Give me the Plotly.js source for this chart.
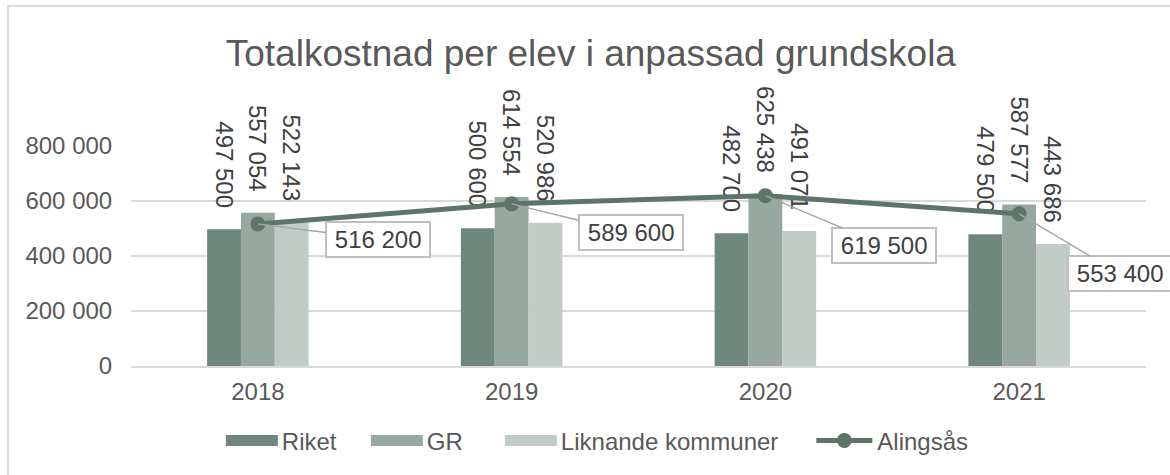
<!DOCTYPE html>
<html>
<head>
<meta charset="utf-8">
<script src="https://cdn.plot.ly/plotly-3.0.1.min.js"></script>
<style>
  html, body { margin: 0; padding: 0; background: #ffffff; overflow: hidden; }
  #chart { width: 1170px; height: 475px; position: absolute; left: 0; top: 0; }
  #frame { position: absolute; left: 7px; top: 5px; width: 1300px; height: 600px;
           border: 2px solid #d9d9d9; pointer-events: none; }
</style>
</head>
<body>
<div id="chart"></div>
<div id="frame"></div>
<script>
const years = [2018, 2019, 2020, 2021];
const riket = [497500, 500600, 482700, 479500];
const gr = [557054, 614554, 625438, 587577];
const liknande = [522143, 520986, 491071, 443686];
const alingsas = [516200, 589600, 619500, 553400];
const seriesNames = ['Riket', 'GR', 'Liknande kommuner', 'Alingsås'];
const yTicks = [0, 200000, 400000, 600000, 800000];

function fmt(v) { return String(v).replace(/\B(?=(\d{3})+(?!\d))/g, ' '); }
const pad = '\u00a0\u00a0\u2009';

const textColor = '#404040';
const axisColor = '#595959';
const fontFam = '"Liberation Sans", Arial, sans-serif';

function barTrace(name, vals, color) {
  return {
    type: 'bar', name: name, x: years, y: vals,
    marker: { color: color, line: { width: 0 } },
    text: vals.map(v => fmt(v) + pad),
    textposition: 'outside', textangle: 90, constraintext: 'none',
    cliponaxis: false,
    textfont: { size: 24, color: textColor, family: fontFam }
  };
}

const traces = [
  barTrace(seriesNames[0], riket, '#6f877c'),
  barTrace(seriesNames[1], gr, '#97a8a0'),
  barTrace(seriesNames[2], liknande, '#c2ccc7'),
  {
    type: 'scatter', mode: 'lines+markers', name: seriesNames[3], x: years, y: alingsas,
    line: { color: '#5d7569', width: 5 },
    marker: { color: '#5d7569', size: 15 },
    cliponaxis: false
  }
];

const offsets = [[120, 15], [119, 29], [119, 50], [101, 60]];
const annotations = years.map((yr, i) => ({
  x: yr, y: alingsas[i], xref: 'x', yref: 'y',
  text: '\u2009' + fmt(alingsas[i]) + '\u2009',
  showarrow: true, arrowhead: 0, arrowwidth: 1.5, arrowcolor: '#a6a6a6',
  ax: offsets[i][0], ay: offsets[i][1], standoff: 0,
  bordercolor: '#bfbfbf', borderwidth: 2, borderpad: 3, bgcolor: '#ffffff',
  font: { size: 24, color: textColor, family: fontFam }
}));

const layout = {
  width: 1170, height: 475,
  margin: { l: 131, r: 24, t: 146, b: 109 },
  paper_bgcolor: 'rgba(0,0,0,0)', plot_bgcolor: 'rgba(0,0,0,0)',
  font: { family: fontFam, size: 24, color: axisColor },
  title: {
    text: 'Totalkostnad per elev i anpassad grundskola',
    font: { size: 37, color: axisColor, family: fontFam },
    x: 0.505, xanchor: 'center', xref: 'container',
    y: 1 - 53 / 475, yanchor: 'middle', yref: 'container'
  },
  barmode: 'group', bargap: 0.6, bargroupgap: 0,
  xaxis: {
    type: 'linear', range: [2017.5, 2021.5], tickvals: years, ticktext: years.map(String),
    showgrid: false, zeroline: false,
    showline: true, linecolor: '#d9d9d9', linewidth: 1.5,
    ticks: 'outside', ticklen: 3, tickcolor: 'rgba(0,0,0,0)',
    tickfont: { size: 24, color: axisColor, family: fontFam }
  },
  yaxis: {
    range: [0, 800000], tickvals: yTicks, ticktext: yTicks.map(fmt),
    showgrid: true, gridcolor: '#d9d9d9', gridwidth: 1.5, zeroline: false,
    showline: false, ticks: 'outside', ticklen: 13, tickcolor: 'rgba(0,0,0,0)',
    tickfont: { size: 24, color: axisColor, family: fontFam }
  },
  showlegend: true,
  legend: {
    orientation: 'h', x: 0.457, xanchor: 'center', y: -0.34, yanchor: 'middle',
    itemwidth: 56, font: { size: 24, color: axisColor, family: fontFam },
    traceorder: 'normal'
  },
  annotations: annotations
};

// spacing (px) between the end of one legend label and the next legend symbol
const legendGaps = [34, 42, 38];

Plotly.newPlot('chart', traces, layout, { displayModeBar: false }).then(() => {
  const items = Array.from(document.querySelectorAll('.legend g.traces'));
  const info = items.map(g => {
    let symStart = 5;
    g.querySelectorAll('.legendpoints path').forEach(p => {
      if (p.getAttribute('d') === 'M6,6H-6V-6H6Z') {
        p.setAttribute('d', 'M29,5.5H-23V-5.5H29Z');
        p.style.strokeWidth = '0';
        const m = /translate\(([-\d.]+)/.exec(p.getAttribute('transform') || '');
        symStart = (m ? parseFloat(m[1]) : 0) - 23;
      }
    });
    const t = g.querySelector('text.legendtext');
    const bb = t.getBBox();
    const m = /translate\(([-\d.]+)[ ,]+([-\d.]+)/.exec(g.getAttribute('transform') || '');
    return { g, x: m ? parseFloat(m[1]) : 0, y: m ? parseFloat(m[2]) : 0,
             symStart, textEnd: bb.x + bb.width };
  });
  if (!info.length) return;
  const oldRight = info[info.length - 1].x + info[info.length - 1].textEnd;
  const newX = [info[0].x];
  for (let i = 1; i < info.length; i++) {
    newX.push(newX[i - 1] + info[i - 1].textEnd + legendGaps[i - 1] - info[i].symStart);
  }
  const newRight = newX[info.length - 1] + info[info.length - 1].textEnd;
  const shift = -((newRight - oldRight) / 2);
  info.forEach((it, i) => {
    it.g.setAttribute('transform', 'translate(' + (newX[i] + shift) + ',' + it.y + ')');
  });
  const bg = document.querySelector('.legend rect.bg');
  if (bg) bg.setAttribute('width', '0');
  const sc = document.querySelector('.legend .scrollbox');
  if (sc) sc.removeAttribute('clip-path');
  document.querySelectorAll('.legend').forEach(l => l.removeAttribute('clip-path'));
});
</script>
</body>
</html>
